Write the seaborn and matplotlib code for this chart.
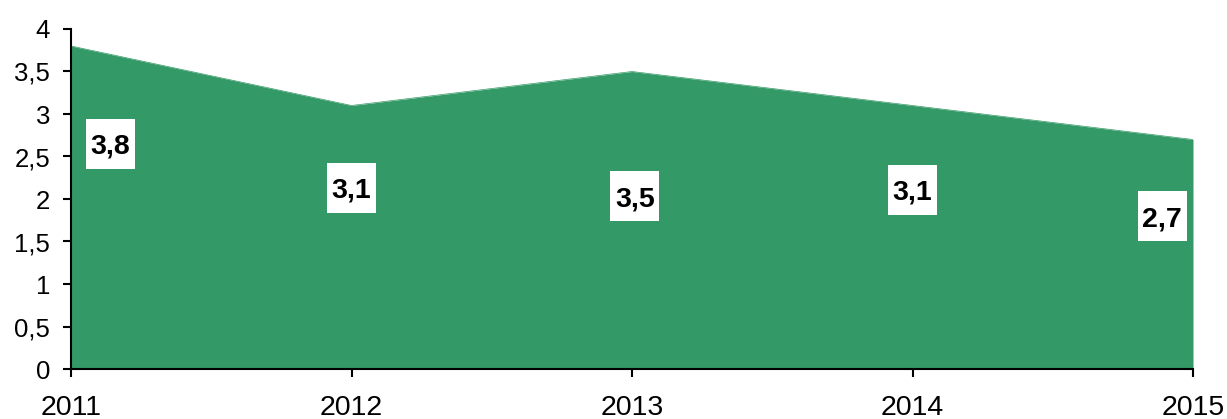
import matplotlib
matplotlib.use("Agg")
import matplotlib.pyplot as plt
import matplotlib.transforms as mtransforms
from matplotlib.patches import Rectangle
import seaborn as sns
import pandas as pd

# values
years = [2011, 2012, 2013, 2014, 2015]
values = [3.8, 3.1, 3.5, 3.1, 2.7]
value_labels = ["3,8", "3,1", "3,5", "3,1", "2,7"]
y_ticks = [0, 0.5, 1, 1.5, 2, 2.5, 3, 3.5, 4]
y_tick_labels = ["0", "0,5", "1", "1,5", "2", "2,5", "3", "3,5", "4"]

# where Excel put the data labels (positions, not data)
label_x_shift = [0.14, 0.0, 0.01, 0.0, -0.11]
label_y_pos = [2.65, 2.13, 2.03, 2.11, 1.80]

green = "#339966"

sns.set_theme(style="white")
plt.rcParams["font.family"] = ["Liberation Sans", "DejaVu Sans"]

df = pd.DataFrame({"year": years, "value": values})

fig = plt.figure(figsize=(12.27, 4.19), dpi=100)
ax = fig.add_axes([71 / 1227, 50 / 419, (1193 - 71) / 1227, (369 - 29) / 419])

sns.lineplot(data=df, x="year", y="value", color=green, linewidth=0.5, ax=ax)
ax.fill_between(df["year"], 0, df["value"], color=green, linewidth=0)

# white label boxes, 49x50 px, centred on the label point
for yr, dx, ly, txt in zip(years, label_x_shift, label_y_pos, value_labels):
    trans = mtransforms.IdentityTransform() + mtransforms.ScaledTranslation(yr + dx, ly, ax.transData)
    ax.add_patch(Rectangle((-24.5, -25), 49, 50, transform=trans,
                           facecolor="white", edgecolor="none", zorder=3))
    ax.text(yr + dx, ly, txt, ha="center", va="center_baseline", fontsize=20.5,
            fontweight="bold", color="black", zorder=4)

ax.set_xlim(2011, 2015)
ax.set_ylim(0, 4)
ax.set_xticks(years)
ax.set_xticklabels([str(y) for y in years], fontsize=20.5)
ax.set_yticks(y_ticks)
ax.set_yticklabels(y_tick_labels, fontsize=18.5)
ax.set_xlabel("")
ax.set_ylabel("")

for side in ["top", "right"]:
    ax.spines[side].set_visible(False)
for side in ["left", "bottom"]:
    ax.spines[side].set_color("black")
    ax.spines[side].set_linewidth(1.5)
ax.spines["bottom"].set_zorder(5)

ax.tick_params(axis="both", direction="out", length=6, width=1.5, color="black",
               left=True, bottom=True, labelcolor="black")
ax.tick_params(axis="x", pad=13)
ax.tick_params(axis="y", pad=9)

fig.savefig("out.png", dpi=100)
